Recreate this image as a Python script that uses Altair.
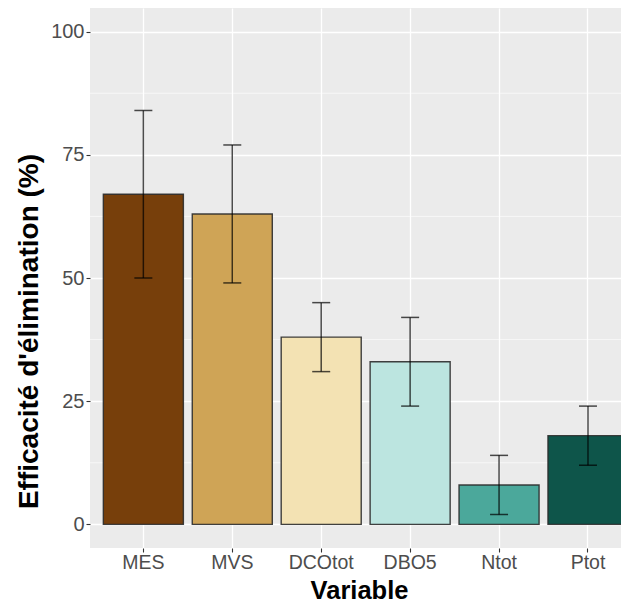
import altair as alt
import pandas as pd

variables = ["MES", "MVS", "DCOtot", "DBO5", "Ntot", "Ptot"]
efficacite = [67, 63, 38, 33, 8, 18]
err_low = [50, 49, 31, 24, 2, 12]
err_high = [84, 77, 45, 42, 14, 24]
colors = ["#773F0B", "#CFA456", "#F3E2B3", "#BCE5E0", "#4BA89B", "#0E554A"]
y_major = [0, 25, 50, 75, 100]
y_minor = [12.5, 37.5, 62.5, 87.5]

df = pd.DataFrame({"Variable": variables, "eff": efficacite, "lo": err_low, "hi": err_high})
minor_df = pd.DataFrame({"m": y_minor})

FONT = "Liberation Sans"

xscale = alt.Scale(domain=variables, paddingInner=0.1, paddingOuter=0.075, align=1, range=[0, 538])
yscale = alt.Scale(domain=[-4.8, 104.8], nice=False, zero=False)

x_axis = alt.Axis(title="Variable", labelAngle=0, bandPosition=0.5, grid=True,
                  gridColor="white", gridWidth=1.3, domain=False,
                  tickColor="#333333", tickSize=4, tickWidth=1.1,
                  labelColor="#4D4D4D", labelFontSize=19.5, labelFont=FONT, labelPadding=1,
                  titleFont=FONT, titleFontSize=25.5, titleFontWeight="bold", titleColor="black",
                  titleBaseline="alphabetic", titleY=50)
y_axis = alt.Axis(title="Efficacité d'élimination (%)", values=y_major, grid=True,
                  gridColor="white", gridWidth=1.3, domain=False,
                  tickColor="#333333", tickSize=4, tickWidth=1.1,
                  labelColor="#4D4D4D", labelFontSize=20, labelFont=FONT, labelPadding=2,
                  titleFont=FONT, titleFontSize=28, titleFontWeight="bold", titleColor="black",
                  titlePadding=7, titleY=323)

minor = alt.Chart(minor_df).mark_rule(color="white", strokeWidth=0.6).encode(
    y=alt.Y("m:Q", scale=yscale, axis=y_axis)
)

bars = alt.Chart(df).mark_bar(stroke="#2b2b2b", strokeWidth=1.4, strokeOpacity=0.9, clip=True).encode(
    x=alt.X("Variable:N", scale=xscale, axis=x_axis, sort=variables),
    y=alt.Y("eff:Q", scale=yscale, axis=y_axis),
    y2=alt.datum(0),
    color=alt.Color("Variable:N", scale=alt.Scale(domain=variables, range=colors), legend=None),
)

err_rule = alt.Chart(df).mark_rule(color="black", strokeWidth=1.5, opacity=0.7, clip=True).encode(
    x=alt.X("Variable:N", scale=xscale, sort=variables, axis=x_axis, bandPosition=0.5),
    y=alt.Y("lo:Q", scale=yscale, axis=y_axis),
    y2="hi:Q",
)
cap_lo = alt.Chart(df).mark_tick(color="black", thickness=1.5, opacity=0.7, size=18, orient="horizontal", clip=True).encode(
    x=alt.X("Variable:N", scale=xscale, sort=variables, axis=x_axis, bandPosition=0.5),
    y=alt.Y("lo:Q", scale=yscale, axis=y_axis),
)
cap_hi = alt.Chart(df).mark_tick(color="black", thickness=1.5, opacity=0.7, size=18, orient="horizontal", clip=True).encode(
    x=alt.X("Variable:N", scale=xscale, sort=variables, axis=x_axis, bandPosition=0.5),
    y=alt.Y("hi:Q", scale=yscale, axis=y_axis),
)

chart = alt.layer(minor, bars, err_rule, cap_lo, cap_hi).properties(
    width=531, height=540,
    background="white",
    autosize=alt.AutoSizeParams(type="none"),
    padding={"left": 82, "top": 0, "right": 0, "bottom": 56},
).configure_view(fill="#EBEBEB", strokeWidth=0)

chart.save("out.html", embed_options={"renderer": "svg", "actions": False})
